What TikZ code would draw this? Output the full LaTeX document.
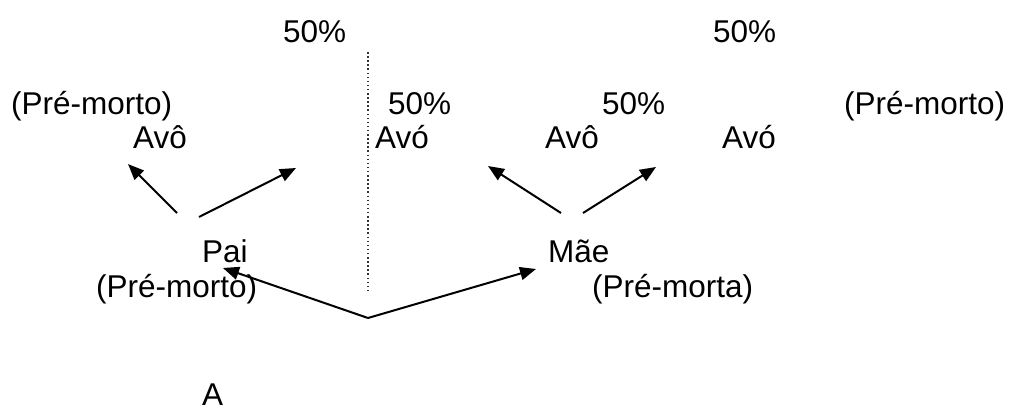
\documentclass[tikz,border=0pt]{standalone}
\usepackage{fontspec}
\setmainfont{Liberation Sans}
\usetikzlibrary{arrows.meta}
\begin{document}
\begin{tikzpicture}[x=1pt,y=-1pt,
  lbl/.style={anchor=base west,inner sep=0pt,font=\fontsize{31.5}{36}\selectfont},
  link/.style={line width=2pt,-{Triangle[length=16pt,width=13pt]}},
  divider/.style={line width=1.3pt,dash pattern=on 1.5pt off 2.6pt,black!80}]
\useasboundingbox (0,0) rectangle (1009,410);

% upper row
\node[lbl] (pctA) at (283,42) {50\%};
\node[lbl] (pctB) at (713,42) {50\%};

\node[lbl] (preL) at (11,114) {(Pré-morto)};
\node[lbl] (pctC) at (388,114) {50\%};
\node[lbl] (pctD) at (602,114) {50\%};
\node[lbl] (preR) at (844,114) {(Pré-morto)};

\node[lbl] (avoL)  at (133,148) {Avô};
\node[lbl] (avaL)  at (375,148) {Avó};
\node[lbl] (avoR)  at (545,148) {Avô};
\node[lbl] (avaR)  at (722,148) {Avó};

% parents
\node[lbl] (pai)    at (202,262) {Pai};
\node[lbl] (paiSt)  at (96,297)  {(Pré-morto)};
\node[lbl] (mae)    at (548,262) {Mãe};
\node[lbl] (maeSt)  at (592,297) {(Pré-morta)};

\node[lbl] (a) at (202,405) {A};

% arrow end points
\coordinate (p1) at (177,213);  \coordinate (p1t) at (128,164);
\coordinate (p2) at (199,217);  \coordinate (p2t) at (296,168);
\coordinate (m1) at (561,213);  \coordinate (m1t) at (488,166);
\coordinate (m2) at (583,213);  \coordinate (m2t) at (656,167);
\coordinate (fork) at (368,318);
\coordinate (paiT) at (223,268);
\coordinate (maeT) at (536,269);
\coordinate (divTop) at (368,52);
\coordinate (divBot) at (368,293);

% separator between the two sides
\draw[divider] (divTop) -- (divBot);

% grandparent links
\draw[link] (p1) -- (p1t);
\draw[link] (p2) -- (p2t);
\draw[link] (m1) -- (m1t);
\draw[link] (m2) -- (m2t);

% links to the parents
\draw[link] (fork) -- (paiT);
\draw[link] (fork) -- (maeT);
\end{tikzpicture}
\end{document}
